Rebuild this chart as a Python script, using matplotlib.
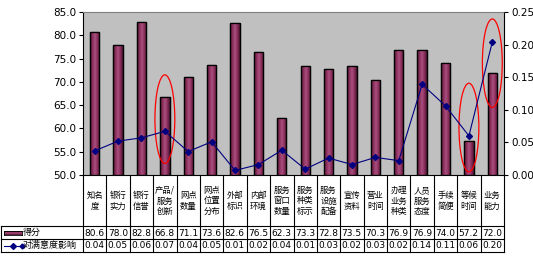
import numpy as np
import matplotlib.pyplot as plt
import matplotlib.transforms as mtransforms
from matplotlib.colors import LinearSegmentedColormap
from matplotlib.patches import Ellipse, Rectangle
from matplotlib.lines import Line2D

plt.rcParams["font.family"] = ["Noto Sans CJK SC", "DejaVu Sans"]

categories = ["知名\n度", "银行\n实力", "银行\n信誉", "产品/\n服务\n创新", "网点\n数量",
              "网点\n位置\n分布", "外部\n标识", "内部\n环境", "服务\n窗口\n数量", "服务\n种类\n标示",
              "服务\n设施\n配备", "宣传\n资料", "营业\n时间", "办理\n业务\n种类", "人员\n服务\n态度",
              "手续\n简便", "等候\n时间", "业务\n能力"]
scores = [80.6, 78.0, 82.8, 66.8, 71.1, 73.6, 82.6, 76.5, 62.3, 73.3,
          72.8, 73.5, 70.3, 76.9, 76.9, 74.0, 57.2, 72.0]
impact = [0.037, 0.052, 0.057, 0.067, 0.036, 0.051, 0.007, 0.016, 0.038, 0.009,
          0.026, 0.016, 0.027, 0.022, 0.139, 0.106, 0.060, 0.204]
highlight = [3, 16, 17]
score_label = "得分"
impact_label = "对满意度影响"

W, H = 533, 261
fig = plt.figure(figsize=(W / 100, H / 100), dpi=100)
fig.patch.set_facecolor("white")

# plot area in pixels: x 83..504, y 12..175
ax = fig.add_axes([83 / W, 1 - 175 / H, (504 - 83) / W, (175 - 12) / H])
ax.set_facecolor("#c0c0c0")
n = len(categories)
x = np.arange(n)

bar_cmap = LinearSegmentedColormap.from_list(
    "bar", ["#4a1430", "#8a2d5c", "#a8507e", "#8a2d5c", "#4a1430"])
bars = ax.bar(x, scores, width=0.4, bottom=0, color="#8a2d5c",
              edgecolor="black", linewidth=0.9, zorder=2)
grad = np.linspace(0, 1, 64).reshape(1, -1)
for b in bars:
    x0, w = b.get_x(), b.get_width()
    im = ax.imshow(grad, cmap=bar_cmap, aspect="auto", zorder=2.5,
                   extent=[x0, x0 + w, 50, b.get_height()])
    im.set_clip_path(b)
    edge = Rectangle((x0, 50), w, b.get_height() - 50, fill=False,
                     edgecolor="black", linewidth=0.9, zorder=3)
    ax.add_patch(edge)

ax.set_xlim(-0.5, n - 0.5)
ax.set_ylim(50, 85)
ax.set_yticks(np.arange(50, 85.1, 5))
ax.set_yticklabels([f"{v:.1f}" for v in np.arange(50, 85.1, 5)],
                   family="DejaVu Sans", fontsize=7.5)
ax.set_xticks(np.arange(n + 1) - 0.5)
ax.set_xticklabels([])
ax.tick_params(axis="x", length=0)
ax.tick_params(axis="y", length=3, width=0.8, pad=2)
for s in ["left", "bottom", "right"]:
    ax.spines[s].set_color("black")
    ax.spines[s].set_linewidth(0.8)
ax.spines["top"].set_color("#808080")

for i in highlight:
    e_h = 19.0
    cy = {3: 62.0, 16: 60.2, 17: 74.0}[i]
    ax.add_patch(Ellipse((x[i], cy), 0.85, e_h, fill=False,
                         edgecolor="red", linewidth=0.9, zorder=6))

ax2 = ax.twinx()
ax2.plot(x, impact, color="#000080", linewidth=0.8, marker="D",
         markersize=3, markeredgecolor="#000080", zorder=5)
ax2.set_ylim(0, 0.25)
ax2.set_yticks(np.arange(0, 0.251, 0.05))
ax2.set_yticklabels([f"{v:.2f}" for v in np.arange(0, 0.251, 0.05)],
                    family="DejaVu Sans", fontsize=7.5)
ax2.tick_params(axis="y", length=3, width=0.8, pad=2)
for s in ax2.spines.values():
    s.set_visible(False)

# data table below the axes
tr = mtransforms.blended_transform_factory(ax.transData, fig.transFigure)
trf = fig.transFigure

def fy(py):
    return 1 - py / H

row_top, row1, row2, row3 = 175, 226, 239, 252
lc = "black"
lw = 0.8
for k in range(n + 1):
    xb = k - 0.5
    fig.add_artist(Line2D([xb, xb], [fy(row_top), fy(row3)], transform=tr,
                          color=lc, linewidth=lw, clip_on=False))
for py in (row1, row2, row3):
    fig.add_artist(Line2D([1 / W, 504 / W], [fy(py), fy(py)], transform=trf,
                          color=lc, linewidth=lw, clip_on=False))
fig.add_artist(Line2D([1 / W, 1 / W], [fy(row1), fy(row3)], transform=trf,
                      color=lc, linewidth=lw, clip_on=False))

for i in range(n):
    fig.text(x[i], fy(201), categories[i], transform=tr, ha="center", va="center",
             fontsize=6, linespacing=1.25)
    fig.text(i - 0.5 + 0.06, fy((row1 + row2) / 2 + 0.5), f"{scores[i]:.1f}",
             transform=tr, ha="left", va="center", fontsize=6.5, family="DejaVu Sans")
    fig.text(i - 0.5 + 0.06, fy((row2 + row3) / 2 + 0.5), f"{impact[i]:.2f}",
             transform=tr, ha="left", va="center", fontsize=6.5, family="DejaVu Sans")

# legend keys in the table
swatch = fig.add_axes([4 / W, fy(234.5), 18 / W, 4 / H])
swatch.imshow(grad.T.T, cmap=bar_cmap, aspect="auto", extent=[0, 1, 0, 1])
swatch.imshow(np.linspace(0, 1, 16).reshape(-1, 1), cmap=bar_cmap, aspect="auto",
              extent=[0, 1, 0, 1])
swatch.set_xticks([])
swatch.set_yticks([])
for s in swatch.spines.values():
    s.set_linewidth(0.6)
fig.text(23 / W, fy(232.5), score_label, ha="left", va="center", fontsize=6.5)
fig.add_artist(Line2D([4 / W, 22 / W], [fy(245.5), fy(245.5)], transform=trf,
                      color="#000080", linewidth=0.8, marker="D", markersize=2.5,
                      markevery=[1], clip_on=False))
fig.add_artist(Line2D([13 / W], [fy(245.5)], transform=trf, color="#000080",
                      marker="D", markersize=3, linestyle="none", clip_on=False))
fig.text(23 / W, fy(245.5), impact_label, ha="left", va="center", fontsize=6.5)

fig.savefig("out.png", dpi=100)
